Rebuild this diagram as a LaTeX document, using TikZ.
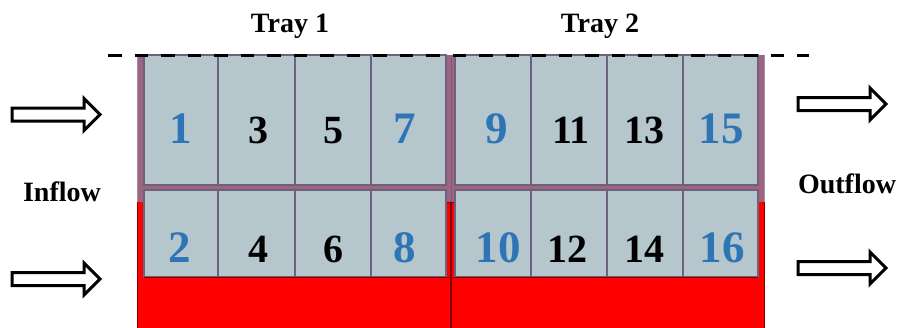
\documentclass[tikz,border=0pt]{standalone}
\usepackage{fontspec}
\setmainfont{Liberation Serif}
\definecolor{framec}{RGB}{158,100,128}
\definecolor{cellc}{RGB}{181,198,205}
\definecolor{celledge}{RGB}{108,98,128}
\definecolor{numblue}{RGB}{46,117,182}
\definecolor{darkred}{RGB}{130,0,0}
\tikzset{
  cellbox/.style={draw=celledge, line width=1.6pt, fill=cellc, anchor=north west, inner sep=0pt, outer sep=0pt},
  bnum/.style={text=numblue, font=\bfseries\fontsize{45}{50}\selectfont, anchor=base, inner sep=0pt},
  knum/.style={text=black, font=\bfseries\fontsize{40}{44}\selectfont, anchor=base, inner sep=0pt},
  lbl/.style={font=\bfseries\fontsize{28}{30}\selectfont, anchor=base, inner sep=0pt},
  blockarrow/.style={draw=black, fill=white, line width=3pt, miter limit=10},
}
\newcommand{\hollowarrow}[4]{% tail x, tip x, center y, name
  \draw[blockarrow] (#1,#3-6.5) -- (#2-16,#3-6.5) -- (#2-16,#3-16) -- (#2,#3) -- (#2-16,#3+16) -- (#2-16,#3+6.5) -- (#1,#3+6.5) -- cycle;
  \coordinate (#4) at (#2,#3);
}
\begin{document}
\begin{tikzpicture}[x=1pt,y=-1pt]
\useasboundingbox (0,0) rectangle (901,327);
% frame
\fill[framec] (137,55) rectangle (765,330);
\draw[celledge!70!white, line width=1pt] (137.5,55) -- (137.5,330) (764.5,55) -- (764.5,330);
\fill[red] (137,202) rectangle (765,330);
\draw[darkred, line width=0.8pt] (137.5,202) -- (137.5,330);
\draw[darkred, line width=0.8pt] (764.5,202) -- (764.5,330);
\draw[darkred, line width=0.8pt] (446.5,202) -- (455.5,202);
% cells top row
\foreach \i/\xa/\xb in {1/144/218, 3/218/295, 5/295/371, 7/371/446, 9/455/531, 11/531/607, 13/607/683, 15/683/758}{
  \node[cellbox, minimum width={\xb-\xa}, minimum height=130] (cell\i) at (\xa,55) {};
}
\foreach \i/\xa/\xb in {2/144/218, 4/218/295, 6/295/371, 8/371/446, 10/455/531, 12/531/607, 14/607/683, 16/683/758}{
  \node[cellbox, minimum width={\xb-\xa}, minimum height=87] (cell\i) at (\xa,190) {};
}
% middle divider between trays
\draw[celledge, line width=1pt] (451,55) -- (451,202);
\draw[darkred, line width=1.2pt] (451,202) -- (451,330);
\draw[darkred, line width=1pt] (446,277.5) -- (456,277.5);
\draw[darkred, line width=1pt] (144,277.5) -- (446,277.5) (456,277.5) -- (758,277.5);
% numbers
\node[bnum] (n1) at (181,143) {1};
\node[knum] (n3) at (258,143) {3};
\node[knum] (n5) at (333,143) {5};
\node[bnum] (n7) at (405,143) {7};
\node[bnum] (n9) at (497,143) {9};
\node[knum] (n11) at (571,143) {11};
\node[knum] (n13) at (644,143) {13};
\node[bnum] (n15) at (721,143) {15};
\node[bnum] (n2) at (180,262) {2};
\node[knum] (n4) at (258,262) {4};
\node[knum] (n6) at (333,262) {6};
\node[bnum] (n8) at (405,262) {8};
\node[bnum] (n10) at (498,262) {10};
\node[knum] (n12) at (567,262) {12};
\node[knum] (n14) at (644,262) {14};
\node[bnum] (n16) at (722,262) {16};
% dashed water level
\coordinate (dl) at (108,55);
\coordinate (dr) at (809,55);
\draw[black, line width=3pt, dash pattern=on 13.5pt off 13pt] (dl) -- (dr);
% labels
\node[lbl] (tray1) at (290,32) {Tray 1};
\node[lbl] (tray2) at (600,32) {Tray 2};
\node[lbl] (inflow) at (62,201) {Inflow};
\node[lbl] (outflow) at (847,193) {Outflow};
% arrows
\hollowarrow{12}{100}{114.5}{ain1}
\hollowarrow{12}{100}{279}{ain2}
\hollowarrow{798}{886}{104}{aout1}
\hollowarrow{798}{886}{268}{aout2}
\end{tikzpicture}
\end{document}
